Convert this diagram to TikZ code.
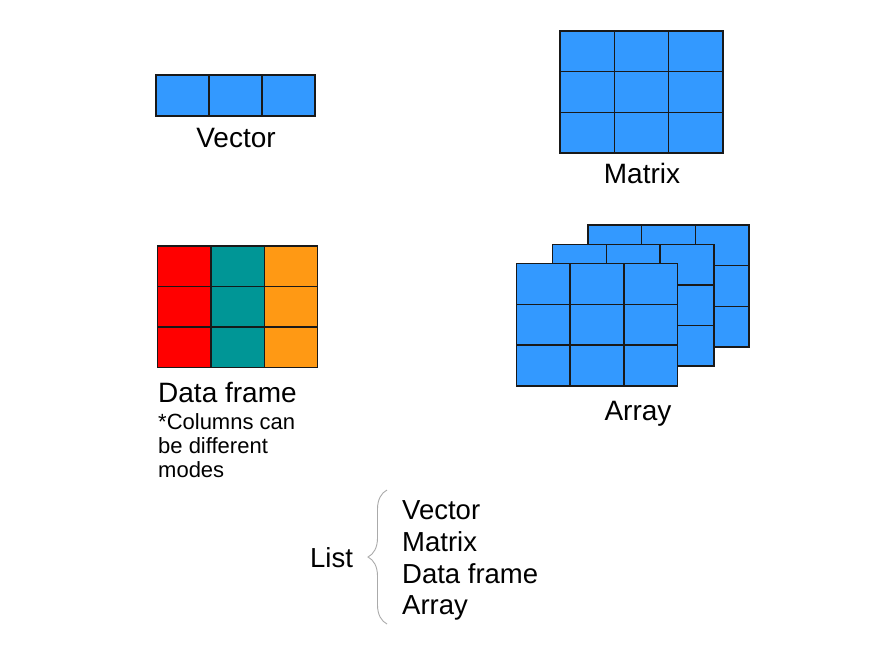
\documentclass[tikz,border=0pt]{standalone}
\usepackage{fontspec}
\setmainfont{Liberation Sans}
\usetikzlibrary{decorations.pathreplacing}
\definecolor{cellblue}{RGB}{51,153,255}
\definecolor{cellred}{RGB}{255,0,0}
\definecolor{cellteal}{RGB}{0,150,150}
\definecolor{cellorange}{RGB}{255,153,20}
\definecolor{bracegray}{RGB}{170,170,170}
\tikzset{
  gridline/.style={draw=black!90, line width=1.5pt},
  bigtext/.style={inner sep=0pt, font=\fontsize{28}{32}\selectfont},
  listtext/.style={inner sep=0pt, font=\fontsize{27.5}{32}\selectfont},
  smalltext/.style={inner sep=0pt, font=\fontsize{22}{24}\selectfont},
}
% \mygrid{x0}{y0}{x1}{y1}{rows}{cols}{fill}
\newcommand\mygrid[7]{%
  \fill[#7] (#1,#2) rectangle (#3,#4);
  \pgfmathsetmacro\gw{(#3-#1)/#6}
  \pgfmathsetmacro\gh{(#4-#2)/#5}
  \foreach \i in {1,...,#6}{\draw[gridline] ({#1+\i*\gw},#2) -- ({#1+\i*\gw},#4);}
  \foreach \j in {1,...,#5}{\draw[gridline] (#1,{#2+\j*\gh}) -- (#3,{#2+\j*\gh});}
  \draw[gridline] (#1,#2) rectangle (#3,#4);
}
\begin{document}
\begin{tikzpicture}[x=1pt,y=-1pt]
\useasboundingbox (0,0) rectangle (890,667);
% Vector
\mygrid{156}{75}{315}{116}{1}{3}{cellblue}
\node[bigtext, anchor=base] (vec) at (236,147) {Vector};
% Matrix
\mygrid{560}{31}{723}{153}{3}{3}{cellblue}
\node[bigtext, anchor=base] (mat) at (642,183) {Matrix};
% Data frame
\fill[cellred] (157.5,246) rectangle (211,367.5);
\fill[cellteal] (211,246) rectangle (264.5,367.5);
\fill[cellorange] (264.5,246) rectangle (317.5,367.5);
\foreach \x in {211,264.5}{\draw[gridline] (\x,246) -- (\x,367.5);}
\foreach \y in {286.5,327}{\draw[gridline] (157.5,\y) -- (317.5,\y);}
\draw[gridline] (157.5,246) rectangle (317.5,367.5);
\node[bigtext, anchor=base west] (df) at (158,402) {Data frame};
\node[smalltext, anchor=base west] (dfa) at (158,429) {*Columns can};
\node[smalltext, anchor=base west] (dfb) at (158,453) {be different};
\node[smalltext, anchor=base west] (dfc) at (158,477) {modes};
% Array
\mygrid{588}{225}{749}{347}{3}{3}{cellblue}
\mygrid{552.5}{244.5}{714}{366}{3}{3}{cellblue}
\mygrid{516.5}{263.5}{677.5}{386}{3}{3}{cellblue}
\node[bigtext, anchor=base] (arr) at (638,420) {Array};
% List
\node[listtext, anchor=base west] (list) at (310,567) {List};
\coordinate (bb) at (387,624);
\coordinate (bt) at (387,490);
\draw[bracegray, line width=0.9pt, decorate, decoration={brace, amplitude=19pt}] (bb) -- (bt);
\node[listtext, anchor=base west] (l1) at (402,519.5) {Vector};
\node[listtext, anchor=base west] (l2) at (402,551) {Matrix};
\node[listtext, anchor=base west] (l3) at (402,583) {Data frame};
\node[listtext, anchor=base west] (l4) at (402,614) {Array};
\end{tikzpicture}
\end{document}
